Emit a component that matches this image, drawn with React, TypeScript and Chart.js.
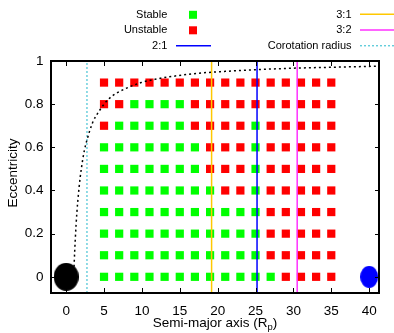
import React, { useEffect, useRef } from 'react';
import { Chart, registerables } from 'chart.js';

Chart.register(...registerables);

// ---------- data ----------
const semiMajorAxes = [5, 7, 9, 11, 13, 15, 17, 19, 21, 23, 25, 27, 29, 31, 33, 35];
const eccentricities = [0, 0.1, 0.2, 0.3, 0.4, 0.5, 0.6, 0.7, 0.8, 0.9];
// G = stable, R = unstable; one string per eccentricity, one letter per semi-major axis
const stabilityRows = [
  'GGGGGGGGGGGGRRRR', // e = 0
  'GGGGGGGGGGGRRRRR', // e = 0.1
  'GGGGGGGGGGGRRRRR', // e = 0.2
  'GGGGGGGGGGGRRRRR', // e = 0.3
  'GGGGGGGGRRGRRRRR', // e = 0.4
  'GGGGGGGRRRGRRRRR', // e = 0.5
  'GGGGGGGRRRGRRRRR', // e = 0.6
  'RGGGGGRRRRGRRRRR', // e = 0.7
  'RRGGGGRRRRRRRRRR', // e = 0.8
  'RRRRRRRRRRRRRRRR', // e = 0.9
];
const resonance31 = 19.2;
const resonance21 = 25.2;
const resonance32 = 30.5;
const corotationRadius = 2.75;
// pericentre-at-surface curve
const curveA = [1.0, 1.07, 1.2, 1.42, 1.6, 1.85, 2.0, 2.4, 2.8, 3.5, 4.4, 5.5, 6.6, 7.9, 9.9, 12, 13.5, 17.4, 21, 25.2, 30.3, 35, 41.3];
const curveE = [0, 0.07, 0.17, 0.3, 0.375, 0.46, 0.5, 0.585, 0.64, 0.715, 0.77, 0.82, 0.85, 0.873, 0.9, 0.917, 0.926, 0.943, 0.952, 0.96, 0.967, 0.971, 0.976];
const planetA = [0];
const moonA = [40];
const xTicks = [0, 5, 10, 15, 20, 25, 30, 35, 40];
const yTicks = [0, 0.2, 0.4, 0.6, 0.8, 1];
const xRange = [-2, 41.3];
const yRange = [-0.075, 1];

const FONT = '"Liberation Sans", Arial, Helvetica, sans-serif';
const GREEN = '#00ff00';
const RED = '#ff0000';
const YELLOW = '#ffc800';
const BLUE = '#0000ff';
const MAGENTA = '#ff30ff';
const CYAN = '#22b8cc';

function ellipseCanvas(w: number, h: number, color: string) {
  const c = document.createElement('canvas');
  c.width = w;
  c.height = h;
  const g = c.getContext('2d')!;
  g.fillStyle = color;
  g.beginPath();
  g.ellipse(w / 2, h / 2, w / 2, h / 2, 0, 0, Math.PI * 2);
  g.fill();
  return c;
}

const decorPlugin = {
  id: 'decor',
  afterDatasetsDraw(chart: any) {
    const { ctx, chartArea: a, scales } = chart;
    const x = scales.x;
    const y = scales.y;
    ctx.save();
    ctx.strokeStyle = '#000';
    ctx.lineWidth = 1;
    ctx.beginPath();
    for (const v of xTicks) {
      const px = Math.round(x.getPixelForValue(v)) + 0.5;
      ctx.moveTo(px, a.bottom);
      ctx.lineTo(px, a.bottom - 5);
      ctx.moveTo(px, a.top);
      ctx.lineTo(px, a.top + 5);
    }
    for (const v of yTicks) {
      const py = Math.round(y.getPixelForValue(v)) + 0.5;
      ctx.moveTo(a.left, py);
      ctx.lineTo(a.left + 4, py);
      ctx.moveTo(a.right, py);
      ctx.lineTo(a.right - 4, py);
    }
    ctx.stroke();
    ctx.lineWidth = 2;
    ctx.strokeRect(a.left, a.top, a.right - a.left, a.bottom - a.top);
    ctx.restore();
  },
  afterDraw(chart: any) {
    const { ctx, chartArea: a } = chart;
    ctx.save();
    ctx.fillStyle = '#000';
    // x title with subscript
    const base = 13.5;
    ctx.font = `${base}px ${FONT}`;
    const t1 = 'Semi-major axis (R';
    const t3 = ')';
    ctx.textBaseline = 'alphabetic';
    const w1 = ctx.measureText(t1).width;
    const w3 = ctx.measureText(t3).width;
    ctx.font = `${base * 0.7}px ${FONT}`;
    const w2 = ctx.measureText('p').width;
    const total = w1 + w2 + w3;
    const cx = (a.left + a.right) / 2;
    let sx = cx - total / 2;
    const by = 327;
    ctx.font = `${base}px ${FONT}`;
    ctx.textAlign = 'left';
    ctx.fillText(t1, sx, by);
    sx += w1;
    ctx.font = `${base * 0.7}px ${FONT}`;
    ctx.fillText('p', sx, by + 3);
    sx += w2;
    ctx.font = `${base}px ${FONT}`;
    ctx.fillText(t3, sx, by);
    // y title
    ctx.save();
    ctx.translate(13.5, 173);
    ctx.rotate(-Math.PI / 2);
    ctx.textAlign = 'center';
    ctx.textBaseline = 'middle';
    ctx.fillText('Eccentricity', 0, 0);
    ctx.restore();

    // legend
    ctx.font = `11px ${FONT}`;
    ctx.textAlign = 'right';
    ctx.textBaseline = 'middle';
    const rows = [14.8, 30.3, 45.8];
    ctx.fillText('Stable', 167.3, rows[0]);
    ctx.fillText('Unstable', 167.3, rows[1]);
    ctx.fillText('2:1', 167.3, rows[2]);
    ctx.fillText('3:1', 351.5, rows[0]);
    ctx.fillText('3:2', 351.5, rows[1]);
    ctx.fillText('Corotation radius', 351.5, rows[2]);
    ctx.fillStyle = GREEN;
    ctx.fillRect(189, rows[0] - 4, 8, 8);
    ctx.fillStyle = RED;
    ctx.fillRect(189, rows[1] - 4, 8, 8);
    ctx.lineWidth = 1.5;
    ctx.strokeStyle = BLUE;
    ctx.beginPath();
    ctx.moveTo(176, rows[2]);
    ctx.lineTo(211, rows[2]);
    ctx.stroke();
    ctx.strokeStyle = YELLOW;
    ctx.beginPath();
    ctx.moveTo(360, rows[0] - 0.5);
    ctx.lineTo(395, rows[0] - 0.5);
    ctx.stroke();
    ctx.strokeStyle = MAGENTA;
    ctx.beginPath();
    ctx.moveTo(360, rows[1] - 0.3);
    ctx.lineTo(395, rows[1] - 0.3);
    ctx.stroke();
    ctx.strokeStyle = CYAN;
    ctx.lineWidth = 1;
    ctx.setLineDash([2, 2]);
    ctx.beginPath();
    ctx.moveTo(360, rows[2]);
    ctx.lineTo(395, rows[2]);
    ctx.stroke();
    ctx.restore();
  },
};

export default function App() {
  const ref = useRef<HTMLCanvasElement | null>(null);

  useEffect(() => {
    if (!ref.current) return;
    const stable: { x: number; y: number }[] = [];
    const unstable: { x: number; y: number }[] = [];
    eccentricities.forEach((e, i) => {
      semiMajorAxes.forEach((aVal, j) => {
        (stabilityRows[i][j] === 'G' ? stable : unstable).push({ x: aVal, y: e });
      });
    });
    const vline = (xv: number) => [
      { x: xv, y: yRange[0] },
      { x: xv, y: yRange[1] },
    ];
    const lineDs = (data: any[], color: string, width: number, dash: number[] = []) => ({
      data,
      showLine: true,
      borderColor: color,
      borderWidth: width,
      borderDash: dash,
      pointRadius: 0,
      pointHoverRadius: 0,
      fill: false,
    });
    const planet = ellipseCanvas(25, 28, '#000000');
    const moon = ellipseCanvas(18, 22, BLUE);

    const chart = new Chart(ref.current, {
      type: 'scatter',
      data: {
        datasets: [
          {
            data: planetA.map((v) => ({ x: v, y: 0 })),
            pointStyle: planet as any,
            pointRadius: 14,
          } as any,
          {
            data: moonA.map((v) => ({ x: v, y: 0 })),
            pointStyle: moon as any,
            pointRadius: 11,
          } as any,
          {
            ...lineDs(curveA.map((v, i) => ({ x: v, y: curveE[i] })), '#000', 1.5, [2, 3]),
            cubicInterpolationMode: 'monotone',
          } as any,
          lineDs(vline(resonance31), YELLOW, 1.5),
          lineDs(vline(resonance21), BLUE, 1.5),
          lineDs(vline(resonance32), MAGENTA, 1.5),
          lineDs(vline(corotationRadius), CYAN, 1, [2, 2]),
          {
            data: stable,
            pointStyle: 'rect',
            pointRadius: 5.8,
            pointBorderWidth: 0,
            backgroundColor: GREEN,
            borderColor: GREEN,
          } as any,
          {
            data: unstable,
            pointStyle: 'rect',
            pointRadius: 5.8,
            pointBorderWidth: 0,
            backgroundColor: RED,
            borderColor: RED,
          } as any,
        ],
      },
      options: {
        animation: false,
        responsive: false,
        maintainAspectRatio: false,
        layout: { padding: { left: 0, top: 61, right: 9, bottom: 0 } },
        plugins: {
          legend: { display: false },
          tooltip: { enabled: false },
        },
        scales: {
          x: {
            type: 'linear',
            min: xRange[0],
            max: xRange[1],
            grid: { display: false, drawTicks: false },
            border: { display: false },
            afterBuildTicks: (s: any) => {
              s.ticks = xTicks.map((v) => ({ value: v }));
            },
            afterFit: (s: any) => {
              s.height = 40;
            },
            ticks: {
              autoSkip: false,
              maxRotation: 0,
              padding: 10,
              color: '#000',
              font: { family: FONT, size: 13.5 },
              callback: (v: any) => String(v),
            },
          },
          y: {
            type: 'linear',
            min: yRange[0],
            max: yRange[1],
            grid: { display: false, drawTicks: false },
            border: { display: false },
            afterBuildTicks: (s: any) => {
              s.ticks = yTicks.map((v) => ({ value: v }));
            },
            afterFit: (s: any) => {
              s.width = 51;
            },
            ticks: {
              padding: 7.5,
              color: '#000',
              font: { family: FONT, size: 13.5 },
              callback: (v: any) => String(v),
            },
          },
        },
      },
      plugins: [decorPlugin],
    });
    return () => chart.destroy();
  }, []);

  return (
    <div style={{ position: 'absolute', left: 0, top: 0, width: 394, height: 333 }}>
      <canvas ref={ref} width={394} height={333} />
    </div>
  );
}
